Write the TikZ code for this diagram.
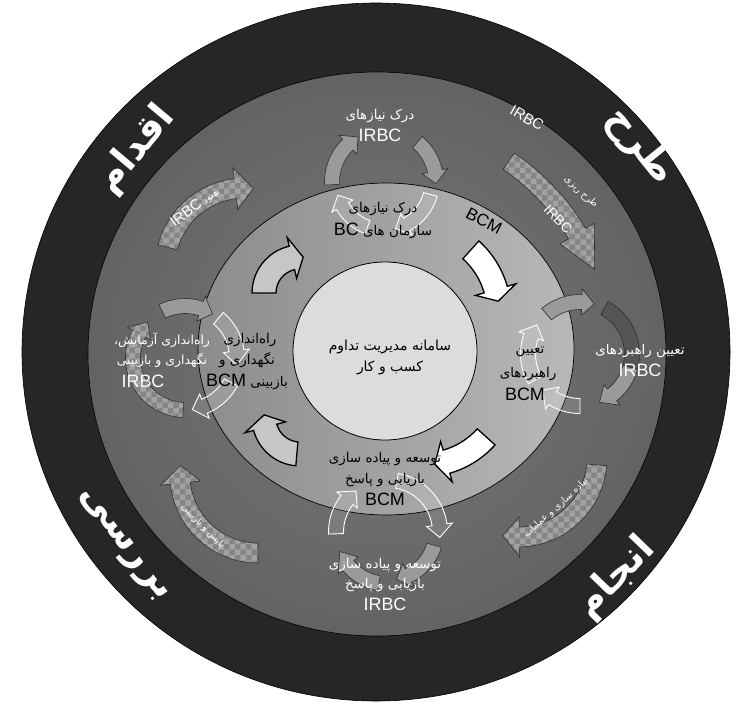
\documentclass[tikz,border=0pt]{standalone}
\usepackage{fontspec}
\usetikzlibrary{patterns}
\TeXXeTstate=1
\newfontfamily\fa[Script=Arabic]{DejaVu Sans}
\newfontfamily\lat{Liberation Sans}
\definecolor{bandgray}{HTML}{262626}
\definecolor{ringouter}{HTML}{636363}
\definecolor{ringinner}{HTML}{787878}
\definecolor{midleft}{HTML}{8C8C8C}
\definecolor{midright}{HTML}{B8B8B8}
\definecolor{corefill}{HTML}{DCDCDC}
\definecolor{arrgray}{HTML}{9A9A9A}
\definecolor{arrdark}{HTML}{555555}
\definecolor{chkdark}{HTML}{858585}
\definecolor{chklight}{HTML}{A2A2A2}
\definecolor{edge}{HTML}{2E2E2E}
\definecolor{blockfill}{HTML}{C6C6C6}

% curved block arrow: centre x, centre y, mid radius, body width,
% start angle, end of body, tip angle, head half width, style
\newcommand{\curvedarrow}[9]{%
  \begin{scope}[shift={(#1,#2)}]
    \path[#9] (#5:{#3+#4/2}) arc[start angle=#5, end angle=#6, radius={#3+#4/2}]
      -- (#6:{#3+#8}) -- (#7:#3) -- (#6:{#3-#8}) -- (#6:{#3-#4/2})
      arc[start angle=#6, end angle=#5, radius={#3-#4/2}] -- cycle;
  \end{scope}}

\begin{document}
\begin{tikzpicture}[x=1bp, y=-1bp,
  ringlab/.style={text=white, font=\fa\bfseries\fontsize{38}{42}\selectfont, inner sep=0pt},
  whitefa/.style={text=white, font=\fa\fontsize{13.5}{15}\selectfont, inner sep=0pt},
  blackfa/.style={text=black, font=\fa\fontsize{13.5}{15}\selectfont, inner sep=0pt},
  whitelat/.style={text=white, font=\lat\fontsize{18}{20}\selectfont, inner sep=0pt},
  blacklat/.style={text=black, font=\lat\fontsize{18}{20}\selectfont, inner sep=0pt},
  smallwhite/.style={text=white, font=\fa\fontsize{9.5}{11}\selectfont, inner sep=0pt},
  cyclegray/.style={fill=arrgray, draw=edge, line width=0.6bp},
  cycledark/.style={fill=arrdark, draw=edge, line width=0.6bp},
  cyclewhite/.style={draw=white, line width=0.9bp, fill=white, fill opacity=0.12},
  checked/.style={preaction={fill=chkdark}, pattern=checkerboard, pattern color=chklight, draw=edge, line width=0.6bp},
  blockwhite/.style={fill=white, draw=black, line width=1.3bp},
  blockgray/.style={fill=blockfill, draw=black, line width=1.3bp},
]
\useasboundingbox (0,0) rectangle (752,702);
\fill[white] (0,0) rectangle (752,702);

% rings
\path[fill=bandgray, draw=black, line width=0.6bp] (376,352) ellipse[x radius=354, y radius=349];
\path[draw=black, line width=0.6bp, inner color=ringinner, outer color=ringouter] (377,354) ellipse[x radius=289, y radius=282];
\path[draw=black, line width=0.7bp, left color=midleft, right color=midright] (386,349) ellipse[x radius=188, y radius=166];
\path[draw=black, line width=0.8bp, fill=corefill] (385,351) ellipse[x radius=92, y radius=89];

% checkered arrows of the outer cycle
\curvedarrow{380}{352}{230}{20}{-56}{-31}{-21}{20}{checked}
\curvedarrow{518}{458}{79}{20}{5}{89}{101}{20}{checked}
\curvedarrow{258}{475}{78}{20}{90}{174}{187}{20}{checked}
\curvedarrow{245}{268}{80}{20}{195}{263}{276}{21}{checked}

% top cycle
\curvedarrow{384}{182}{52}{15}{177}{226}{240}{13}{cyclegray}
\curvedarrow{384}{182}{52}{15}{310}{348}{362}{13}{cyclegray}
\curvedarrow{384}{182}{48}{14}{15}{62}{76}{12}{cyclewhite}
\curvedarrow{384}{182}{48}{14}{110}{150}{164}{12}{cyclewhite}
% right cycle
\curvedarrow{580}{354}{52}{15}{150}{200}{214}{13}{cyclewhite}
\curvedarrow{580}{354}{52}{15}{230}{272}{286}{13}{cyclegray}
\curvedarrow{580}{354}{52}{15}{298}{375}{375}{7.5}{cycledark}
\curvedarrow{580}{354}{52}{15}{15}{52}{68}{13}{cyclegray}
\curvedarrow{580}{354}{52}{15}{90}{122}{136}{13}{cyclewhite}
% bottom cycle
\curvedarrow{388}{532}{52}{15}{178}{218}{232}{13}{cyclewhite}
\curvedarrow{388}{532}{52}{15}{280}{352}{366}{13}{cyclewhite}
\curvedarrow{388}{532}{48}{15}{16}{65}{80}{13}{cyclegray}
\curvedarrow{388}{532}{52}{15}{100}{140}{158}{13}{cyclegray}
% left cycle
\curvedarrow{185}{358}{52}{15}{244}{288}{302}{13}{cyclegray}
\curvedarrow{185}{358}{52}{15}{310}{352}{368}{13}{cyclewhite}
\curvedarrow{185}{358}{52}{15}{28}{68}{82}{13}{cyclewhite}
\curvedarrow{185}{358}{52}{15}{92}{208}{224}{13}{checked}

% block arrows round the core
\curvedarrow{300}{293}{36}{24}{180}{257}{275}{21}{blockgray}
\curvedarrow{414}{313}{85}{24}{312}{344}{352}{21}{blockwhite}
\curvedarrow{423}{380}{85}{24}{42}{74}{82}{21}{blockwhite}
\curvedarrow{300}{418}{36}{24}{95}{165}{185}{21}{blockgray}

% phase names
\node[ringlab, rotate=-51] (plan) at (640,146) {\beginR طرح\endR};
\node[ringlab, rotate=50] (act) at (136,150) {\beginR اقدام\endR};
\node[ringlab, rotate=46] (doit) at (616,578) {\beginR انجام\endR};
\node[ringlab, rotate=-53] (review) at (122,546) {\beginR بررسی\endR};

\node[text=white, font=\lat\fontsize{15}{17}\selectfont, rotate=-30, inner sep=0pt] (topirbc) at (527,118) {IRBC};
\node[text=black, font=\lat\fontsize{17}{19}\selectfont, rotate=-27, inner sep=0pt] (ringbcm) at (484,221) {BCM};

% core
\node[blackfa, font=\fa\fontsize{14}{16}\selectfont] (core1) at (390,347) {\beginR سامانه مدیریت تداوم\endR};
\node[blackfa, font=\fa\fontsize{14}{16}\selectfont] (core2) at (390,368) {\beginR کسب و کار\endR};

% labels of the small cycles
\node[whitefa] (tA1) at (380,116) {\beginR درک نیازهای\endR};
\node[whitelat] (tA2) at (380,135) {IRBC};
\node[blackfa] (tB1) at (383,209) {\beginR درک نیازهای\endR};
\node[blackfa] (tB2) at (383,231) {\beginR سازمان های \beginL{\lat\fontsize{18}{20}\selectfont BC}\endL\endR};

\node[whitefa] (tC1) at (640,351) {\beginR تعیین راهبردهای\endR};
\node[whitelat] (tC2) at (640,370) {IRBC};
\node[blackfa] (tD1) at (530,352) {\beginR تعیین\endR};
\node[blackfa] (tD2) at (528,374) {\beginR راهبردهای\endR};
\node[blacklat] (tD3) at (525,394) {BCM};

\node[blackfa] (tE1) at (385,459) {\beginR توسعه و پیاده سازی\endR};
\node[blackfa] (tE2) at (385,480) {\beginR بازیابی و پاسخ\endR};
\node[blacklat] (tE3) at (385,499) {BCM};
\node[whitefa] (tF1) at (385,565) {\beginR توسعه و پیاده سازی\endR};
\node[whitefa] (tF2) at (385,585) {\beginR بازیابی و پاسخ\endR};
\node[whitelat] (tF3) at (385,604) {IRBC};

\node[blackfa] (tG1) at (250,340) {\beginR راه‌اندازی\endR};
\node[blackfa] (tG2) at (247,360) {\beginR نگهداری و\endR};
\node[blackfa] (tG3) at (247,382) {\beginR بازبینی \beginL{\lat\fontsize{18}{20}\selectfont BCM}\endL\endR};
\node[whitefa, font=\fa\fontsize{12.5}{14}\selectfont] (tH1) at (162,340) {\beginR راه‌اندازی آزمایش،\endR};
\node[whitefa, font=\fa\fontsize{12.5}{14}\selectfont] (tH2) at (162,360) {\beginR نگهداری و بازبینی\endR};
\node[whitelat] (tH3) at (143,381) {IRBC};

% labels on the checkered arrows
\node[smallwhite, rotate=-42] (kTR1) at (581,192) {\beginR طرح ریزی\endR};
\node[whitelat, font=\lat\fontsize{14}{16}\selectfont, rotate=-45] (kTR2) at (558,219) {IRBC};
\node[smallwhite, rotate=42] (kBR) at (556,508) {\beginR پیاده سازی و عملیات\endR};
\node[smallwhite, rotate=-45] (kBL) at (203,526) {\beginR پایش و بازبینی\endR};
\node[smallwhite, rotate=38] (kTL) at (195,207) {\beginR بهبود \beginL{\lat\fontsize{15}{17}\selectfont IRBC}\endL\endR};
\end{tikzpicture}
\end{document}
